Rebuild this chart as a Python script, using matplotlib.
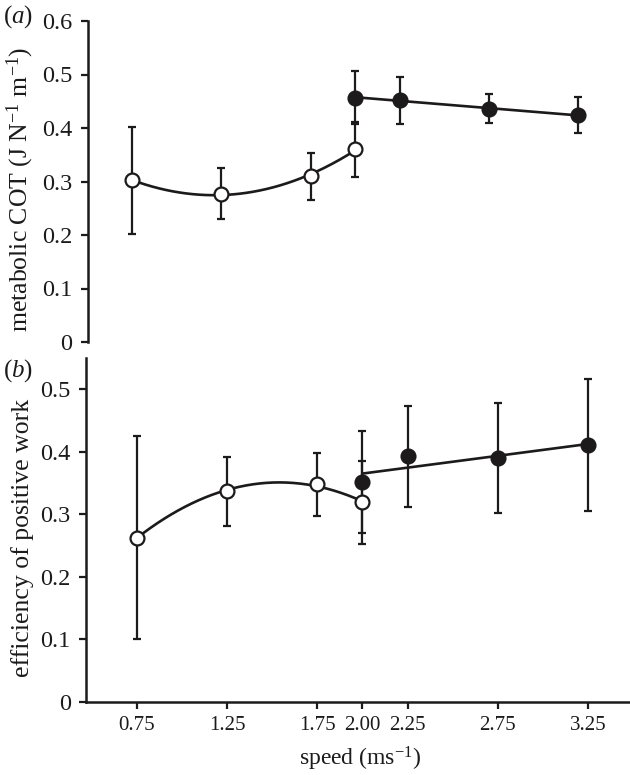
import numpy as np
import matplotlib
matplotlib.use("Agg")
import matplotlib.pyplot as plt

plt.rcParams['font.family'] = ['Liberation Serif', 'DejaVu Serif']
plt.rcParams['mathtext.fontset'] = 'custom'
plt.rcParams['mathtext.rm'] = 'Liberation Serif'
plt.rcParams['mathtext.it'] = 'Liberation Serif:italic'

INK = '#1c1a1b'

# speeds (m/s)
walk_speed = [0.75, 1.25, 1.75, 2.00]
run_speed = [2.00, 2.25, 2.75, 3.25]

# (a) metabolic cost of transport
cot_walk = [0.302, 0.277, 0.310, 0.360]
cot_walk_err = [0.100, 0.048, 0.044, 0.051]
cot_run = [0.457, 0.452, 0.436, 0.424]
cot_run_err = [0.050, 0.044, 0.027, 0.034]

# (b) efficiency of positive work
eff_walk = [0.263, 0.337, 0.348, 0.319]
eff_walk_err = [0.162, 0.055, 0.050, 0.066]
eff_run = [0.352, 0.393, 0.390, 0.411]
eff_run_err = [0.082, 0.081, 0.088, 0.106]

xtick_vals = [0.75, 1.25, 1.75, 2.00, 2.25, 2.75, 3.25]
xtick_labels = ['0.75', '1.25', '1.75', '2.00', '2.25', '2.75', '3.25']
ytick_a = [0, 0.1, 0.2, 0.3, 0.4, 0.5, 0.6]
ytick_a_labels = ['0', '0.1', '0.2', '0.3', '0.4', '0.5', '0.6']
ytick_b = [0, 0.1, 0.2, 0.3, 0.4, 0.5]
ytick_b_labels = ['0', '0.1', '0.2', '0.3', '0.4', '0.5']

fig = plt.figure(figsize=(6.3, 7.75), dpi=100)
ax1 = fig.add_axes([87.5 / 630, 1 - 342 / 775, 532 / 630, 321 / 775])
ax2 = fig.add_axes([86 / 630, 1 - 702 / 775, 544 / 630, 344 / 775])


def draw_panel(ax, yw, ew, yr, er):
    # fitted trends: quadratic for walking, linear for running
    pw = np.polyfit(walk_speed, yw, 2)
    xs = np.linspace(walk_speed[0], walk_speed[-1], 200)
    ax.plot(xs, np.polyval(pw, xs), color=INK, lw=1.9, zorder=2)
    pr = np.polyfit(run_speed, yr, 1)
    xs = np.linspace(run_speed[0], run_speed[-1], 50)
    ax.plot(xs, np.polyval(pr, xs), color=INK, lw=1.9, zorder=2)

    ax.errorbar(walk_speed, yw, yerr=ew, fmt='none', ecolor=INK,
                elinewidth=1.6, capsize=3.0, capthick=1.6, zorder=1)
    ax.errorbar(run_speed, yr, yerr=er, fmt='none', ecolor=INK,
                elinewidth=1.6, capsize=3.0, capthick=1.6, zorder=1)
    ax.plot(walk_speed, yw, 'o', ms=10, mfc='white', mec=INK, mew=1.6, zorder=3)
    ax.plot(run_speed, yr, 'o', ms=10, mfc=INK, mec=INK, mew=1.6, zorder=3)

    for s in ['top', 'right']:
        ax.spines[s].set_visible(False)
    for s in ['left', 'bottom']:
        ax.spines[s].set_linewidth(1.8)
        ax.spines[s].set_color(INK)
    ax.tick_params(axis='y', direction='out', length=5, width=1.6,
                   labelsize=17.5, pad=6, colors=INK)
    ax.tick_params(axis='x', direction='out', length=5, width=1.6,
                   labelsize=15, pad=5, colors=INK)


draw_panel(ax1, cot_walk, cot_walk_err, cot_run, cot_run_err)
draw_panel(ax2, eff_walk, eff_walk_err, eff_run, eff_run_err)

ax1.set_xlim(0.5, 3.482)
ax1.set_ylim(0, 0.6)
ax1.set_yticks(ytick_a)
ax1.set_yticklabels(ytick_a_labels)
ax1.spines['bottom'].set_visible(False)
ax1.set_xticks([])
ax1.set_ylabel(r'metabolic COT (J N$^{-1}$ m$^{-1}$)', fontsize=18.5, color=INK)
ax1.yaxis.label.set_verticalalignment('center')
ax1.yaxis.set_label_coords(-0.127, 0.477)

ax2.set_xlim(0.4673, 3.483)
ax2.set_ylim(0, 0.55)
ax2.set_yticks(ytick_b)
ax2.set_yticklabels(ytick_b_labels)
ax2.set_xticks(xtick_vals)
ax2.set_xticklabels(xtick_labels)
ax2.set_ylabel('efficiency of positive work', fontsize=18.5, color=INK)
ax2.yaxis.label.set_verticalalignment('center')
ax2.yaxis.set_label_coords(-0.117, 0.477)
ax2.set_xlabel(r'speed (ms$^{-1}$)', fontsize=17, color=INK)
ax2.xaxis.label.set_verticalalignment('baseline')
ax2.xaxis.set_label_coords(0.504, -0.186)

fig.text(18 / 630, 1 - 17 / 775, r'($\it{a}$)', fontsize=18, color=INK,
         ha='center', va='center')
fig.text(18 / 630, 1 - 371 / 775, r'($\it{b}$)', fontsize=18, color=INK,
         ha='center', va='center')

fig.savefig('out.png', dpi=100)
